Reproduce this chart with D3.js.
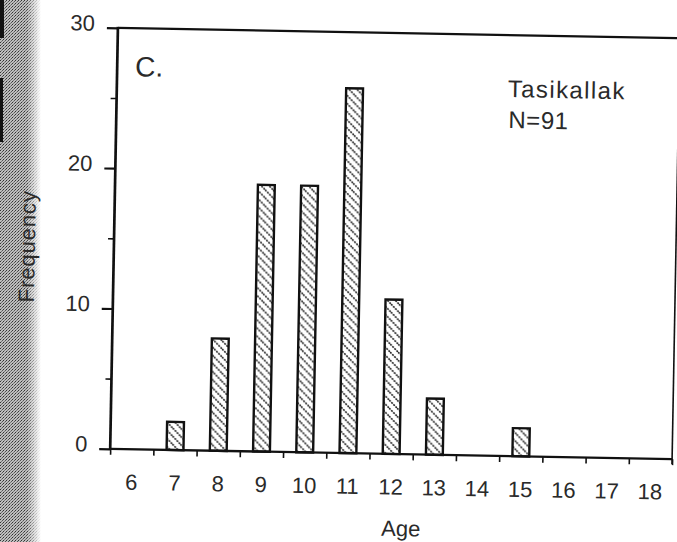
<!DOCTYPE html>
<html>
<head>
<meta charset="utf-8">
<script src="https://cdn.jsdelivr.net/npm/d3@7"></script>
<style>
  html, body { margin: 0; padding: 0; background: #fff; }
  svg text { font-family: "Liberation Sans", Arial, Helvetica, sans-serif; fill: #2a2a2a; }
</style>
</head>
<body>
<svg id="chart" width="677" height="542"></svg>
<script>
// Age distribution, Tasikallak sample
const ages = ["6", "7", "8", "9", "10", "11", "12", "13", "14", "15", "16", "17", "18"];
const frequency = [0, 2, 8, 19, 19, 26, 11, 4, 0, 2, 0, 0, 0];
const yMajorTicks = [0, 10, 20, 30];
const yMinorTicks = [5, 15, 25];
const panelLabel = "C.";
const siteLabel = "Tasikallak";
const sampleLabel = "N=91";
const xTitle = "Age";
const yTitle = "Frequency";

const svg = d3.select("#chart");
const W = 677, H = 542;
const plot = { left: 114, right: 676, top: 33, bottom: 454 };
const textColor = "#2a2a2a";

const defs = svg.append("defs");

// diagonal hatching used to fill the bars
const hatch = defs.append("pattern")
  .attr("id", "hatch")
  .attr("patternUnits", "userSpaceOnUse")
  .attr("width", 8).attr("height", 8);
hatch.append("rect").attr("width", 8).attr("height", 8).attr("fill", "#fff");
hatch.append("path")
  .attr("d", "M-2,-2 L10,10 M-2,6 L2,10 M6,-2 L10,2")
  .attr("stroke", "#1e1e1e")
  .attr("stroke-width", 1.6)
  .attr("stroke-dasharray", "2 1");

// halftone texture for the page edge on the left
const tone = defs.append("pattern")
  .attr("id", "tone")
  .attr("patternUnits", "userSpaceOnUse")
  .attr("width", 3).attr("height", 3);
tone.append("rect").attr("width", 3).attr("height", 3).attr("fill", "#bdbdbd");
tone.append("rect").attr("x", 0).attr("y", 0).attr("width", 1).attr("height", 1).attr("fill", "#333");
tone.append("rect").attr("x", 2).attr("y", 1).attr("width", 1).attr("height", 1).attr("fill", "#555");
tone.append("rect").attr("x", 1).attr("y", 2).attr("width", 1).attr("height", 1).attr("fill", "#777");

const fade = defs.append("linearGradient").attr("id", "fade")
  .attr("x1", 0).attr("x2", 1).attr("y1", 0).attr("y2", 0);
fade.append("stop").attr("offset", "0").attr("stop-color", "#fff").attr("stop-opacity", 1);
fade.append("stop").attr("offset", "0.65").attr("stop-color", "#fff").attr("stop-opacity", 1);
fade.append("stop").attr("offset", "1").attr("stop-color", "#fff").attr("stop-opacity", 0);
defs.append("mask").attr("id", "edgeMask")
  .append("rect").attr("x", 0).attr("y", 0).attr("width", 41).attr("height", H).attr("fill", "url(#fade)");

svg.append("rect").attr("width", W).attr("height", H).attr("fill", "#fff");
svg.append("rect").attr("x", 0).attr("y", 0).attr("width", 41).attr("height", H)
  .attr("fill", "url(#tone)").attr("mask", "url(#edgeMask)");
svg.append("rect").attr("x", 0).attr("y", 0).attr("width", 4).attr("height", 38).attr("fill", "#111");
svg.append("rect").attr("x", 0).attr("y", 78).attr("width", 3).attr("height", 64).attr("fill", "#111");

// the whole panel sits slightly tilted on the page
const g = svg.append("g").attr("transform", "rotate(1.05, 395, 243.5)");

const x = d3.scaleBand().domain(ages).range([plot.left, plot.right]).padding(0);
const y = d3.scaleLinear().domain([0, 30]).range([plot.bottom, plot.top]);
const xEdges = d3.scaleLinear().domain([5.5, 18.5]).range([plot.left, plot.right]);

// bars
const barFrac = 0.39;
g.append("g").selectAll("rect")
  .data(ages.map((a, i) => ({ age: a, value: frequency[i] })).filter(d => d.value > 0))
  .join("rect")
  .attr("x", d => x(d.age) + x.bandwidth() * (1 - barFrac) / 2)
  .attr("width", x.bandwidth() * barFrac)
  .attr("y", d => y(d.value))
  .attr("height", d => y(0) - y(d.value))
  .attr("fill", "url(#hatch)")
  .attr("stroke", "#111")
  .attr("stroke-width", 2.4);

// y axis: major ticks with labels, minor ticks without
const yAxis = g.append("g").attr("transform", `translate(${plot.left},0)`)
  .call(d3.axisLeft(y).tickValues(yMajorTicks).tickSize(11).tickPadding(12).tickFormat(d3.format("d")));
yAxis.select(".domain").remove();
yAxis.selectAll(".tick line").attr("stroke", "#111").attr("stroke-width", 2.2);
yAxis.selectAll(".tick text").attr("font-size", 22).attr("dy", "0.12em")
  .style("font-family", "'Liberation Sans', Arial, sans-serif").attr("fill", textColor);

const yMinor = g.append("g").attr("transform", `translate(${plot.left},0)`)
  .call(d3.axisLeft(y).tickValues(yMinorTicks).tickSize(6).tickFormat(""));
yMinor.select(".domain").remove();
yMinor.selectAll(".tick line").attr("stroke", "#111").attr("stroke-width", 1.6);

// x axis: ticks at the class boundaries, labels at class centres
const xTicks = g.append("g").attr("transform", `translate(0,${plot.bottom})`)
  .call(d3.axisBottom(xEdges).tickValues(d3.range(5.5, 18.6, 1)).tickSize(6).tickFormat(""));
xTicks.select(".domain").remove();
xTicks.selectAll(".tick line").attr("stroke", "#111").attr("stroke-width", 1.6);

const xLabels = g.append("g").attr("transform", `translate(0,${plot.bottom})`)
  .call(d3.axisBottom(x).tickSize(0).tickPadding(25));
xLabels.select(".domain").remove();
xLabels.selectAll(".tick text").attr("font-size", 22)
  .style("font-family", "'Liberation Sans', Arial, sans-serif").attr("fill", textColor);

// frame
const frame = g.append("g").attr("stroke", "#111").attr("fill", "none");
frame.append("line").attr("x1", plot.left).attr("x2", plot.left).attr("y1", plot.top - 1).attr("y2", plot.bottom + 1).attr("stroke-width", 2.7);
frame.append("line").attr("x1", plot.left).attr("x2", plot.right).attr("y1", plot.top).attr("y2", plot.top).attr("stroke-width", 2.2);
frame.append("line").attr("x1", plot.left).attr("x2", plot.right).attr("y1", plot.bottom).attr("y2", plot.bottom).attr("stroke-width", 2.3);
frame.append("line").attr("x1", plot.right).attr("x2", plot.right).attr("y1", plot.top).attr("y2", plot.bottom + 5).attr("stroke-width", 1.6);

// annotations
g.append("text").attr("x", 132).attr("y", 81).attr("font-size", 28).text(panelLabel);
g.append("text").attr("x", 505).attr("y", 95).attr("font-size", 24).attr("letter-spacing", 1.4).text(siteLabel);
g.append("text").attr("x", 506).attr("y", 126).attr("font-size", 24).attr("letter-spacing", 0.6).text(sampleLabel);

// axis titles
g.append("text").attr("x", 406).attr("y", 536).attr("font-size", 22).attr("text-anchor", "middle").text(xTitle);
g.append("text").attr("transform", "translate(35,253) rotate(-90)").attr("font-size", 22)
  .attr("letter-spacing", 0.9).attr("text-anchor", "middle").text(yTitle);
</script>
</body>
</html>
